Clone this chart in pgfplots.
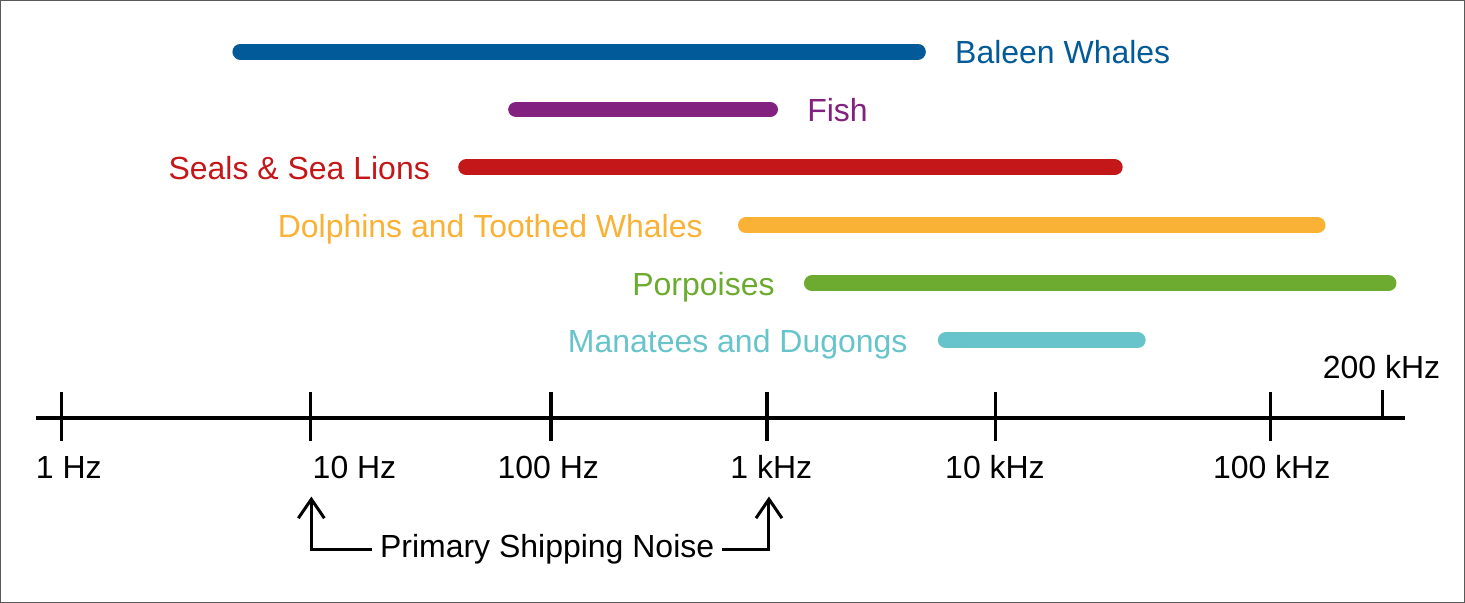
\documentclass[border=0pt]{standalone}
\usepackage{fontspec}
\setmainfont{Liberation Sans}
\usepackage{pgfplots}
\pgfplotsset{compat=1.18}

\definecolor{baleen}{HTML}{035A98}
\definecolor{fish}{HTML}{832180}
\definecolor{seals}{HTML}{C4171A}
\definecolor{dolphin}{HTML}{F9B236}
\definecolor{porpoise}{HTML}{6CAB2F}
\definecolor{manatee}{HTML}{67C4CA}

\begin{document}
\begin{tikzpicture}[lbl/.style={inner sep=0pt, font=\fontsize{16}{19}\selectfont}]
% one unit = one pixel of the 1465 x 602 reference
\begin{axis}[
    scale only axis,
    width=732.5pt, height=301pt,
    xmin=0, xmax=1465, ymin=0, ymax=602,
    y dir=reverse,
    xtick=\empty, ytick=\empty,
    axis line style={black!65, line width=0.6pt},
    clip=false,
]
% frequency ranges
\addplot[baleen, line width=8pt, line cap=round] coordinates {(240,51) (918,51)};
\addplot[fish, line width=8pt, line cap=round] coordinates {(516,109) (770,109)};
\addplot[seals, line width=8pt, line cap=round] coordinates {(466,167) (1115,167)};
\addplot[dolphin, line width=8pt, line cap=round] coordinates {(746,225) (1318,225)};
\addplot[porpoise, line width=8pt, line cap=round] coordinates {(812,283) (1389,283)};
\addplot[manatee, line width=8pt, line cap=round] coordinates {(946,340) (1138,340)};

\node[lbl, anchor=base west, text=baleen] at (axis cs:955,63) {Baleen Whales};
\node[lbl, anchor=base west, text=fish] at (axis cs:807,121) {Fish};
\node[lbl, anchor=base east, text=seals] at (axis cs:430,179) {Seals \& Sea Lions};
\node[lbl, anchor=base east, text=dolphin] at (axis cs:703,237) {Dolphins and Toothed Whales};
\node[lbl, anchor=base east, text=porpoise] at (axis cs:775,295) {Porpoises};
\node[lbl, anchor=base east, text=manatee] at (axis cs:908,352) {Manatees and Dugongs};

% frequency scale
\addplot[black, line width=2.2pt] coordinates {(35,418) (1406,418)};
\addplot[black, line width=1.7pt] coordinates {(61,392) (61,441)};
\addplot[black, line width=1.7pt] coordinates {(310,392) (310,441)};
\addplot[black, line width=1.7pt] coordinates {(551,392) (551,441)};
\addplot[black, line width=1.7pt] coordinates {(767,392) (767,441)};
\addplot[black, line width=1.7pt] coordinates {(996,392) (996,441)};
\addplot[black, line width=1.7pt] coordinates {(1271,392) (1271,441)};
\addplot[black, line width=1.7pt] coordinates {(1383,390) (1383,418)};

\node[lbl, anchor=base west] at (axis cs:35,478) {1 Hz};
\node[lbl, anchor=base west] at (axis cs:312,478) {10 Hz};
\node[lbl, anchor=base west] at (axis cs:497,478) {100 Hz};
\node[lbl, anchor=base west] at (axis cs:730,478) {1 kHz};
\node[lbl, anchor=base west] at (axis cs:945,478) {10 kHz};
\node[lbl, anchor=base west] at (axis cs:1213,478) {100 kHz};
\node[lbl, anchor=base west] at (axis cs:1323,378) {200 kHz};

% shipping noise bracket
\addplot[black, line width=1.5pt] coordinates {(372,549) (311,549) (311,499)};
\addplot[black, line width=1.5pt, line join=miter] coordinates {(298,518) (311,499) (324,518)};
\addplot[black, line width=1.5pt] coordinates {(722,549) (769,549) (769,499)};
\addplot[black, line width=1.5pt, line join=miter] coordinates {(756,518) (769,499) (782,518)};
\node[lbl, anchor=base] at (axis cs:547,557) {Primary Shipping Noise};
\end{axis}
\end{tikzpicture}
\end{document}
